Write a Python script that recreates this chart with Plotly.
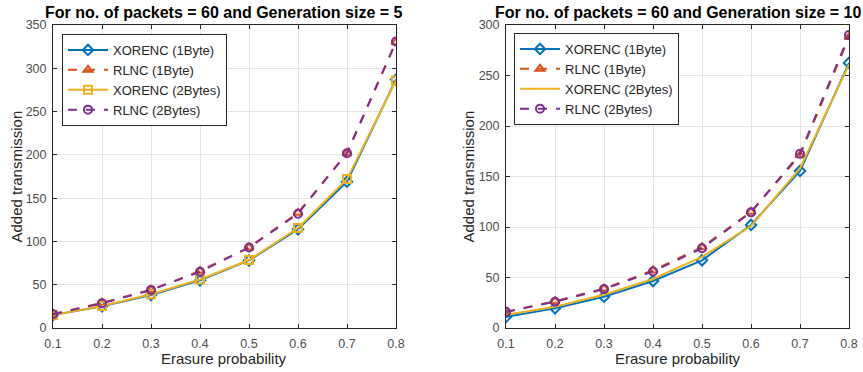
import plotly.graph_objects as go

p = [0.1, 0.2, 0.3, 0.4, 0.5, 0.6, 0.7, 0.8]

# Generation size = 5
xor1_g5 = [15, 25, 38, 55, 78, 114, 169, 287]
rlnc1_g5 = [16, 29, 44, 66, 93, 133, 202, 330]
xor2_g5 = [15, 25.5, 39, 56, 78.5, 115.5, 172, 286]
rlnc2_g5 = [16, 28.5, 44, 65, 93, 132, 202, 331]

# Generation size = 10
xor1_g10 = [11, 19.5, 31, 46.5, 67, 102, 155.5, 262.5]
rlnc1_g10 = [16, 26.5, 39, 57, 80, 115, 171, 288]
xor2_g10 = [13, 21, 33, 48.5, 70.5, 101, 158, 261]
rlnc2_g10 = [16, 26, 38.5, 56, 79, 114.5, 172.5, 290]

names = ["XORENC (1Byte)", "RLNC (1Byte)", "XORENC (2Bytes)", "RLNC (2Bytes)"]
titles = ["For no. of packets = 60 and Generation size = 5",
          "For no. of packets = 60 and Generation size = 10"]
x_label = "Erasure probability"
y_label = "Added transmission"
x_ticks = [0.1, 0.2, 0.3, 0.4, 0.5, 0.6, 0.7, 0.8]
y_ticks_left = [0, 50, 100, 150, 200, 250, 300, 350]
y_ticks_right = [0, 50, 100, 150, 200, 250, 300]

C_BLUE = "#0072BD"
C_ORANGE = "#D95319"
C_YELLOW = "#EDB120"
C_PURPLE = "#7E2F8E"

FONT = "Liberation Sans, Arial, sans-serif"
TXT = "#262626"

fig = go.Figure()

def add_set(series, xa, ya, leg, yellow_markers):
    styles = [
        dict(color=C_BLUE, dash="solid", symbol="diamond-open", mode="lines+markers"),
        dict(color=C_ORANGE, dash="dash", symbol="triangle-up-open", mode="lines+markers"),
        dict(color=C_YELLOW, dash="solid", symbol="square-open",
             mode="lines+markers" if yellow_markers else "lines"),
        dict(color=C_PURPLE, dash="dash", symbol="circle-open", mode="lines+markers"),
    ]
    for name, ys, st in zip(names, series, styles):
        fig.add_trace(go.Scatter(
            x=p, y=ys, name=name, mode=st["mode"],
            line=dict(color=st["color"], width=2, dash=st["dash"]),
            marker=dict(symbol=st["symbol"], size=8, color=st["color"],
                        line=dict(width=2, color=st["color"])),
            xaxis=xa, yaxis=ya, legend=leg,
        ))

add_set([xor1_g5, rlnc1_g5, xor2_g5, rlnc2_g5], "x", "y", "legend", True)
add_set([xor1_g10, rlnc1_g10, xor2_g10, rlnc2_g10], "x2", "y2", "legend2", False)

W, H = 863, 372
xd1 = [53 / W, 396 / W]
xd2 = [506 / W, 849 / W]
yd = [(H - 328) / H, (H - 25) / H]

axis_common = dict(
    showgrid=True, gridcolor="#e3e3e3", gridwidth=1,
    showline=True, linecolor=TXT, linewidth=1, mirror="ticks",
    ticks="inside", ticklen=4, tickcolor=TXT,
    tickfont=dict(family=FONT, size=12.5, color="#4d4d4d"),
    zeroline=False, automargin=False,
)

legend_common = dict(
    bgcolor="white", bordercolor=TXT, borderwidth=1,
    font=dict(family=FONT, size=13, color=TXT),
    xanchor="left", yanchor="top", tracegroupgap=0, itemwidth=40,
)

fig.update_layout(
    width=W, height=H,
    margin=dict(l=0, r=0, t=0, b=0, autoexpand=False),
    paper_bgcolor="white", plot_bgcolor="white",
    xaxis=dict(domain=xd1, range=[0.1, 0.8], tickvals=x_ticks, anchor="y",
               ticklabelstandoff=4, **axis_common),
    yaxis=dict(domain=yd, range=[0, 350], tickvals=y_ticks_left, anchor="x",
               ticklabelstandoff=3, **axis_common),
    xaxis2=dict(domain=xd2, range=[0.1, 0.8], tickvals=x_ticks, anchor="y2",
                ticklabelstandoff=4, **axis_common),
    yaxis2=dict(domain=yd, range=[0, 300], tickvals=y_ticks_right, anchor="x2",
                ticklabelstandoff=3, **axis_common),
    legend=dict(x=62 / W, y=(H - 34) / H, **legend_common),
    legend2=dict(x=514 / W, y=(H - 33) / H, **legend_common),
    showlegend=True,
)

ymid = (yd[0] + yd[1]) / 2
for t, xd, ytx in zip(titles, [xd1, xd2], [16 / W, 468 / W]):
    xmid = (xd[0] + xd[1]) / 2
    fig.add_annotation(
        text="<b>" + t + "</b>", x=xmid, y=(H - 2) / H,
        xref="paper", yref="paper", xanchor="center", yanchor="top",
        showarrow=False, font=dict(family=FONT, size=16, color="black"),
    )
    fig.add_annotation(
        text=x_label, x=xmid, y=(H - 358) / H,
        xref="paper", yref="paper", xanchor="center", yanchor="middle",
        showarrow=False, font=dict(family=FONT, size=15, color=TXT),
    )
    fig.add_annotation(
        text=y_label, x=ytx, y=ymid, textangle=-90,
        xref="paper", yref="paper", xanchor="center", yanchor="middle",
        showarrow=False, font=dict(family=FONT, size=15, color=TXT),
    )

fig.write_html(
    "out.html",
    config={"displayModeBar": False},
    post_script="document.body.style.margin='0px';document.body.style.padding='0px';",
)
